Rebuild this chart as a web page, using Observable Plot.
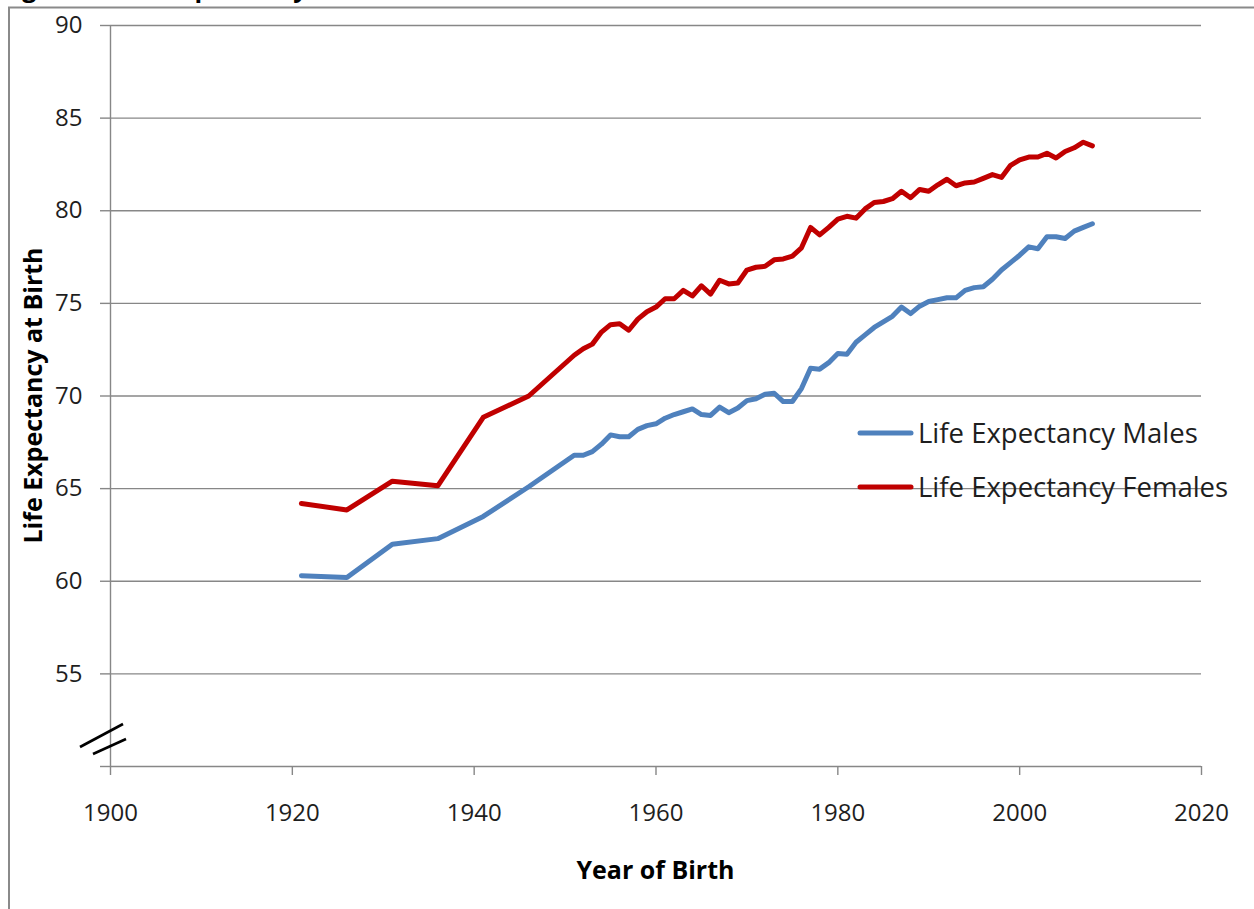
<!DOCTYPE html>
<html><head><meta charset="utf-8">
<script src="https://cdn.jsdelivr.net/npm/d3@7"></script>
<script src="https://cdn.jsdelivr.net/npm/@observablehq/plot@0.6"></script>
<style>
html,body{margin:0;padding:0;background:#fff;overflow:hidden;}
#chart svg{display:block;}
</style></head><body><div id="chart"></div>
<script>
const years = [1921,1926,1931,1936,1941,1946,
  1951,1952,1953,1954,1955,1956,1957,1958,1959,1960,
  1961,1962,1963,1964,1965,1966,1967,1968,1969,1970,
  1971,1972,1973,1974,1975,1976,1977,1978,1979,1980,
  1981,1982,1983,1984,1985,1986,1987,1988,1989,1990,
  1991,1992,1993,1994,1995,1996,1997,1998,1999,2000,
  2001,2002,2003,2004,2005,2006,2007,2008];
const males = [60.3,60.2,62.0,62.3,63.5,65.1,
  66.8,66.8,67.0,67.4,67.9,67.8,67.8,68.2,68.4,68.5,
  68.8,69.0,69.15,69.3,69.0,68.95,69.4,69.1,69.35,69.75,
  69.85,70.1,70.15,69.7,69.7,70.4,71.5,71.45,71.8,72.3,
  72.25,72.9,73.3,73.7,74.0,74.3,74.8,74.45,74.85,75.1,
  75.2,75.3,75.3,75.7,75.85,75.9,76.3,76.8,77.2,77.6,
  78.05,77.95,78.6,78.6,78.5,78.9,79.1,79.3];
const females = [64.2,63.85,65.4,65.15,68.85,70.0,
  72.2,72.55,72.8,73.45,73.85,73.9,73.55,74.15,74.55,74.8,
  75.25,75.25,75.7,75.4,75.95,75.5,76.25,76.05,76.1,76.8,
  76.95,77.0,77.35,77.4,77.55,78.0,79.1,78.7,79.1,79.55,
  79.7,79.6,80.1,80.45,80.5,80.65,81.05,80.7,81.15,81.05,
  81.4,81.7,81.35,81.5,81.55,81.75,81.95,81.8,82.45,82.75,
  82.9,82.9,83.1,82.85,83.2,83.4,83.7,83.5];
const seriesNames = ["Life Expectancy Males","Life Expectancy Females"];
const seriesColors = ["#4f81bd","#c00000"];
const xTicks = [1900,1920,1940,1960,1980,2000,2020];
const yTicks = [50,55,60,65,70,75,80,85,90];
const titleText = "Figure 1: Life Expectancy at Birth";
const xTitle = "Year of Birth";
const yTitle = "Life Expectancy at Birth";

const rows = years.flatMap((yr, i) => [
  {year: yr, value: males[i], series: seriesNames[0]},
  {year: yr, value: females[i], series: seriesNames[1]}
]);

const gridColor = "#878787";
const textColor = "#1e1e1e";

const plot = Plot.plot({
  width: 1254, height: 909,
  marginTop: 25, marginBottom: 143, marginLeft: 110, marginRight: 53,
  style: {fontFamily: "'Open Sans', sans-serif", background: "#fff", color: textColor},
  x: {domain: [1900, 2020], label: null},
  y: {domain: [50, 90], label: null},
  color: {domain: seriesNames, range: seriesColors},
  marks: [
    Plot.gridY(yTicks.filter(v => v > 50), {stroke: gridColor, strokeOpacity: 1, strokeWidth: 1.4}),
    Plot.ruleY([50], {stroke: gridColor, strokeWidth: 1.4}),
    Plot.ruleX([1900], {stroke: gridColor, strokeWidth: 1.4}),
    Plot.axisY({ticks: yTicks, tickSize: 10, tickPadding: 18, tickFormat: d => d === 50 ? "" : String(d),
      fontSize: 24, stroke: gridColor, strokeWidth: 1.4, strokeOpacity: 1, fill: textColor, label: null}),
    Plot.axisX({ticks: xTicks, tickSize: 9, tickPadding: 28, tickFormat: d => String(d),
      fontSize: 24, stroke: gridColor, strokeWidth: 1.4, strokeOpacity: 1, fill: textColor, label: null}),
    Plot.line(rows, {x: "year", y: "value", z: "series", stroke: "series", strokeWidth: 5,
      strokeLinejoin: "round", strokeLinecap: "round"})
  ]
});

const svg = d3.select(plot);
const xs = plot.scale("x"), ys = plot.scale("y");
const x0 = xs.apply(1900), x1 = xs.apply(2020);
const yTop = ys.apply(90), yBot = ys.apply(50);

// outer chart-area border
svg.append("path").attr("d", `M9,${909}V7.5H1254`).attr("fill", "none")
  .attr("stroke", "#8a8a8a").attr("stroke-width", 2);

// title (mostly above the visible page, as in the reference)
svg.append("text").attr("x", 1).attr("y", -2.7).text(titleText)
  .attr("text-anchor", "start")
  .attr("font-family", "'Open Sans', sans-serif").attr("font-weight", "bold")
  .attr("font-size", 25).attr("fill", "#000");

// axis titles
svg.append("text").attr("x", (x0 + x1) / 2).attr("y", yBot + 113).text(xTitle)
  .attr("text-anchor", "middle").attr("font-family", "'Open Sans', sans-serif")
  .attr("font-weight", "bold").attr("font-size", 25).attr("fill", "#000");
svg.append("text").attr("transform", `translate(42,${(yTop + yBot) / 2}) rotate(-90)`).text(yTitle)
  .attr("text-anchor", "middle").attr("font-family", "'Open Sans', sans-serif")
  .attr("font-weight", "bold").attr("font-size", 25).attr("fill", "#000");

// axis break marks
const brk = svg.append("g").attr("stroke", "#000").attr("stroke-width", 2.6).attr("stroke-linecap", "butt");
brk.append("line").attr("x1", 80).attr("y1", yBot - 19).attr("x2", 123).attr("y2", yBot - 42);
brk.append("line").attr("x1", 93).attr("y1", yBot - 12).attr("x2", 126).attr("y2", yBot - 27);

// legend
const lg = svg.append("g");
seriesNames.forEach((name, i) => {
  const cy = 433 + i * 54;
  lg.append("line").attr("x1", 860).attr("x2", 911).attr("y1", cy).attr("y2", cy)
    .attr("stroke", seriesColors[i]).attr("stroke-width", 5).attr("stroke-linecap", "round");
  lg.append("text").attr("x", 918).attr("y", cy + 9.8).text(name)
    .attr("text-anchor", "start")
    .attr("font-family", "'Open Sans', sans-serif").attr("font-size", 27.5).attr("fill", textColor);
});

document.getElementById("chart").appendChild(plot);
</script></body></html>
